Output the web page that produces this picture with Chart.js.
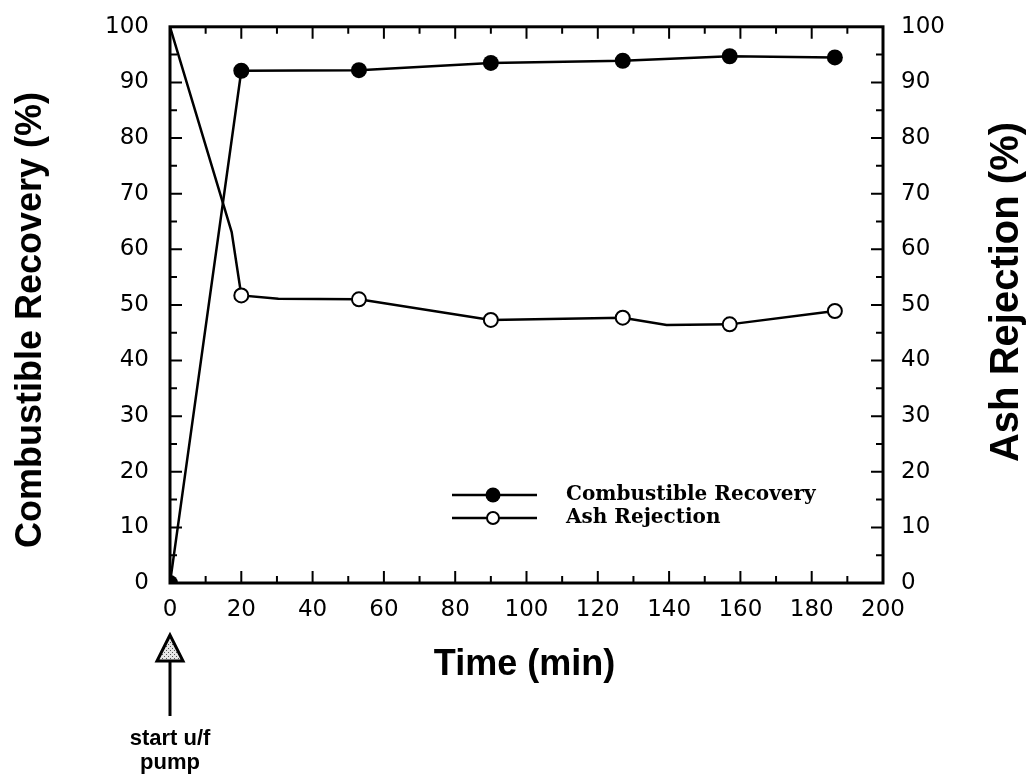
<!DOCTYPE html>
<html>
<head>
<meta charset="utf-8">
<script src="https://cdn.jsdelivr.net/npm/chart.js@4/dist/chart.umd.min.js"></script>
<style>
  html, body { margin: 0; padding: 0; background: #fff; }
  #wrap { width: 1031px; height: 778px; }
</style>
</head>
<body>
<div id="wrap"><canvas id="c" width="1031" height="778"></canvas></div>
<script>
// ---- data ----
const combTime  = [0, 20, 53, 90, 127, 157, 186.5];
const combValue = [0, 92.1, 92.2, 93.5, 93.9, 94.7, 94.5];

const ashTime   = [0, 17.3, 20, 30.4, 53, 90, 127, 139.3, 157, 186.5];
const ashValue  = [100, 63.1, 51.7, 51.1, 51.0, 47.3, 47.7, 46.4, 46.5, 48.9];
const ashMarked = [0, 0, 1, 0, 1, 1, 1, 0, 1, 1];

const xTicks = [0, 20, 40, 60, 80, 100, 120, 140, 160, 180, 200];
const yTicks = [0, 10, 20, 30, 40, 50, 60, 70, 80, 90, 100];

const xTitle = 'Time (min)';
const yTitle = 'Combustible Recovery (%)';
const y2Title = 'Ash Rejection (%)';
const seriesNames = ['Combustible Recovery', 'Ash Rejection'];
const noteLines = ['start u/f', 'pump'];

const tickFont = { family: 'DejaVu Sans', size: 23 };

function stipple(ctx) {
  const c = document.createElement('canvas');
  c.width = 4; c.height = 4;
  const g = c.getContext('2d');
  g.fillStyle = '#e6e6e6';
  g.fillRect(0, 0, 4, 4);
  g.fillStyle = '#555';
  g.fillRect(0, 0, 1, 1);
  g.fillRect(2, 2, 1, 1);
  return ctx.createPattern(c, 'repeat');
}

const decor = {
  id: 'decor',
  afterDraw(chart) {
    const ctx = chart.ctx;
    const xs = chart.scales.x, ys = chart.scales.y;
    const a = chart.chartArea;
    ctx.save();
    ctx.strokeStyle = '#000';
    ctx.fillStyle = '#000';
    // frame
    ctx.lineWidth = 3;
    ctx.strokeRect(a.left, a.top, a.right - a.left, a.bottom - a.top);
    // inward ticks
    ctx.lineWidth = 2;
    for (let v = 10; v < 200; v += 10) {
      const px = xs.getPixelForValue(v);
      const len = (v % 20 === 0) ? 12 : 7;
      ctx.beginPath();
      ctx.moveTo(px, a.bottom); ctx.lineTo(px, a.bottom - len);
      ctx.moveTo(px, a.top); ctx.lineTo(px, a.top + len);
      ctx.stroke();
    }
    for (let v = 5; v < 100; v += 5) {
      const py = ys.getPixelForValue(v);
      const len = (v % 10 === 0) ? 12 : 7;
      ctx.beginPath();
      ctx.moveTo(a.left, py); ctx.lineTo(a.left + len, py);
      ctx.moveTo(a.right, py); ctx.lineTo(a.right - len, py);
      ctx.stroke();
    }
    // axis titles
    ctx.font = 'bold 36px "Liberation Sans", Arial, sans-serif';
    ctx.textAlign = 'center';
    ctx.textBaseline = 'alphabetic';
    ctx.fillText(xTitle, (a.left + a.right) / 2 - 2, 675);
    ctx.save();
    ctx.translate(41, 320);
    ctx.rotate(-Math.PI / 2);
    ctx.fillText(yTitle, 0, 0);
    ctx.restore();
    ctx.save();
    ctx.font = 'bold 40px "Liberation Sans", Arial, sans-serif';
    ctx.translate(1018, 292);
    ctx.rotate(-Math.PI / 2);
    ctx.fillText(y2Title, 0, 0);
    ctx.restore();

    // legend
    const lx0 = 452, lx1 = 537, mx = 493;
    const rows = [495, 518];
    ctx.lineWidth = 2.5;
    rows.forEach((ry, i) => {
      ctx.beginPath();
      ctx.moveTo(lx0, ry); ctx.lineTo(lx1, ry);
      ctx.stroke();
      ctx.beginPath();
      ctx.arc(mx, ry, i === 0 ? 7.5 : 6, 0, Math.PI * 2);
      if (i === 0) { ctx.fill(); }
      else { ctx.fillStyle = '#fff'; ctx.fill(); ctx.fillStyle = '#000'; ctx.lineWidth = 2; ctx.stroke(); }
    });
    ctx.font = 'bold 20px "DejaVu Serif", serif';
    ctx.textAlign = 'left';
    ctx.textBaseline = 'middle';
    rows.forEach((ry, i) => ctx.fillText(seriesNames[i], 566, ry));

    // start marker annotation
    const x0 = xs.getPixelForValue(0);
    ctx.beginPath();
    ctx.moveTo(x0, 635);
    ctx.lineTo(x0 - 13, 661);
    ctx.lineTo(x0 + 13, 661);
    ctx.closePath();
    ctx.fillStyle = stipple(ctx);
    ctx.fill();
    ctx.lineWidth = 3;
    ctx.strokeStyle = '#000';
    ctx.stroke();
    ctx.beginPath();
    ctx.moveTo(x0, 661); ctx.lineTo(x0, 716);
    ctx.stroke();
    ctx.fillStyle = '#000';
    ctx.font = 'bold 22px "Liberation Sans", Arial, sans-serif';
    ctx.textAlign = 'center';
    ctx.textBaseline = 'alphabetic';
    ctx.fillText(noteLines[0], x0, 745);
    ctx.fillText(noteLines[1], x0, 769);
    ctx.restore();
  }
};

new Chart(document.getElementById('c'), {
  type: 'scatter',
  data: {
    datasets: [
      {
        label: seriesNames[0],
        data: combTime.map((t, i) => ({ x: t, y: combValue[i] })),
        showLine: true,
        borderColor: '#000',
        borderWidth: 2.5,
        pointRadius: 8,
        pointBackgroundColor: '#000',
        pointBorderColor: '#000',
        pointBorderWidth: 0,
        clip: 0,
        yAxisID: 'y'
      },
      {
        label: seriesNames[1],
        data: ashTime.map((t, i) => ({ x: t, y: ashValue[i] })),
        showLine: true,
        borderColor: '#000',
        borderWidth: 2.5,
        pointRadius: ashMarked.map(m => m ? 7 : 0),
        pointBackgroundColor: '#fff',
        pointBorderColor: '#000',
        pointBorderWidth: 2,
        yAxisID: 'y2'
      }
    ]
  },
  options: {
    responsive: false,
    animation: false,
    devicePixelRatio: 1,
    layout: { padding: { top: 18, left: 0, right: 0, bottom: 0 } },
    plugins: { legend: { display: false }, tooltip: { enabled: false } },
    scales: {
      x: {
        type: 'linear', min: 0, max: 200,
        grid: { display: false }, border: { display: false },
        afterBuildTicks: s => { s.ticks = xTicks.map(v => ({ value: v })); },
        afterFit: s => { s.height = 195; },
        ticks: { font: tickFont, color: '#000', padding: 5, maxRotation: 0 }
      },
      y: {
        type: 'linear', position: 'left', min: 0, max: 100,
        grid: { display: false }, border: { display: false },
        afterBuildTicks: s => { s.ticks = yTicks.map(v => ({ value: v })); },
        afterFit: s => { s.width = 170; },
        ticks: { font: tickFont, color: '#000', padding: 13 }
      },
      y2: {
        type: 'linear', position: 'right', min: 0, max: 100,
        grid: { display: false }, border: { display: false },
        afterBuildTicks: s => { s.ticks = yTicks.map(v => ({ value: v })); },
        afterFit: s => { s.width = 148; },
        ticks: { font: tickFont, color: '#000', padding: 10 }
      }
    }
  },
  plugins: [decor]
});
</script>
</body>
</html>
